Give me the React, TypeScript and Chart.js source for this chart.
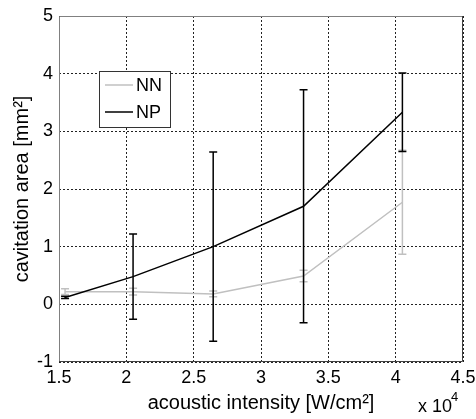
import React, { useEffect, useRef } from 'react';
import { Chart, registerables } from 'chart.js';

Chart.register(...registerables);

const intensity = [1.545, 2.05, 2.645, 3.316, 4.05];
const nnArea = [0.22, 0.22, 0.18, 0.49, 1.77];
const nnError = [0.05, 0.06, 0.05, 0.1, 0.9];
const npArea = [0.12, 0.48, 1.0, 1.7, 3.33];
const npError = [0.02, 0.74, 1.64, 2.02, 0.68];
const seriesNames = ['NN', 'NP'];
const seriesColors = ['#c0c0c0', '#000000'];
const xTickLabels = ['1.5', '2', '2.5', '3', '3.5', '4', '4.5'];
const yTickLabels = ['-1', '0', '1', '2', '3', '4', '5'];

const FONT = '"Liberation Sans", Arial, sans-serif';

const errorBarPlugin = {
  id: 'errorBars',
  afterDatasetsDraw(chart: any) {
    const ctx = chart.ctx;
    const xs = chart.scales.x;
    const ys = chart.scales.y;
    const sets = [
      { v: nnArea, e: nnError, c: seriesColors[0] },
      { v: npArea, e: npError, c: seriesColors[1] },
    ];
    ctx.save();
    for (const s of sets) {
      ctx.strokeStyle = s.c;
      ctx.lineWidth = 1.5;
      for (let i = 0; i < intensity.length; i++) {
        const px = xs.getPixelForValue(intensity[i]);
        const top = ys.getPixelForValue(s.v[i] + s.e[i]);
        const bot = ys.getPixelForValue(s.v[i] - s.e[i]);
        ctx.beginPath();
        ctx.moveTo(px, top);
        ctx.lineTo(px, bot);
        ctx.moveTo(px - 4, top);
        ctx.lineTo(px + 4, top);
        ctx.moveTo(px - 4, bot);
        ctx.lineTo(px + 4, bot);
        ctx.stroke();
      }
    }
    ctx.restore();
  },
};

const boxPlugin = {
  id: 'box',
  beforeDatasetsDraw(chart: any) {
    const { ctx, chartArea: a } = chart;
    ctx.save();
    ctx.lineWidth = 1;
    ctx.strokeStyle = '#808080';
    ctx.beginPath();
    ctx.moveTo(a.left + 0.5, a.bottom);
    ctx.lineTo(a.left + 0.5, a.top + 0.5);
    ctx.lineTo(a.right, a.top + 0.5);
    ctx.stroke();
    ctx.strokeStyle = '#404040';
    ctx.beginPath();
    ctx.moveTo(a.right - 0.5, a.top);
    ctx.lineTo(a.right - 0.5, a.bottom - 0.5);
    ctx.lineTo(a.left, a.bottom - 0.5);
    ctx.stroke();
    ctx.restore();
  },
};

const legendPlugin = {
  id: 'customLegend',
  afterDraw(chart: any) {
    const { ctx, chartArea: a } = chart;
    const left = a.left + 40;
    const top = a.top + 55;
    const w = 71;
    const h = 56;
    ctx.save();
    ctx.fillStyle = '#fff';
    ctx.fillRect(left, top, w, h);
    ctx.strokeStyle = '#333';
    ctx.lineWidth = 1;
    ctx.strokeRect(left + 0.5, top + 0.5, w, h);
    ctx.font = `18px ${FONT}`;
    ctx.textBaseline = 'middle';
    seriesNames.forEach((name, i) => {
      const y = top + 14 + i * 27;
      ctx.strokeStyle = seriesColors[i];
      ctx.lineWidth = 1.5;
      ctx.beginPath();
      ctx.moveTo(left + 6, y);
      ctx.lineTo(left + 34, y);
      ctx.stroke();
      ctx.fillStyle = '#000';
      ctx.fillText(name, left + 37, y + 1);
    });
    // exponent label
    ctx.textBaseline = 'alphabetic';
    ctx.font = `18px ${FONT}`;
    ctx.fillText('x 10', 418, 412);
    ctx.font = `13px ${FONT}`;
    ctx.fillText('4', 451, 401);
    ctx.restore();
  },
};

export default function App() {
  const ref = useRef<HTMLCanvasElement>(null);
  useEffect(() => {
    document.body.style.margin = '0';
    const chart = new Chart(ref.current!, {
      type: 'line',
      data: {
        datasets: [
          {
            label: seriesNames[0],
            data: intensity.map((x, i) => ({ x, y: nnArea[i] })),
            borderColor: seriesColors[0],
            borderWidth: 1.5,
            pointRadius: 0,
            tension: 0,
            order: 2,
          },
          {
            label: seriesNames[1],
            data: intensity.map((x, i) => ({ x, y: npArea[i] })),
            borderColor: seriesColors[1],
            borderWidth: 1.5,
            pointRadius: 0,
            tension: 0,
            order: 1,
          },
        ],
      },
      options: {
        animation: false,
        responsive: false,
        layout: { padding: { top: 16, right: 13, left: 0, bottom: 0 } },
        plugins: { legend: { display: false }, tooltip: { enabled: false } },
        scales: {
          x: {
            type: 'linear',
            min: 1.5,
            max: 4.5,
            ticks: {
              stepSize: 0.5,
              color: '#000',
              font: { family: FONT, size: 18 },
              padding: 5,
              maxRotation: 0,
              callback: (v: any) => {
                const idx = Math.round((Number(v) - 1.5) / 0.5);
                return xTickLabels[idx] ?? '';
              },
            },
            grid: { color: '#222', lineWidth: 1, drawTicks: false },
            border: { display: false, dash: [2, 2] },
            title: {
              display: true,
              text: 'acoustic intensity [W/cm²]',
              color: '#000',
              font: { family: FONT, size: 20 },
              padding: { top: 0, bottom: 4 },
            },
            afterFit: (s: any) => {
              s.height = 57;
              s.paddingLeft = 0;
              s.paddingRight = 0;
            },
          },
          y: {
            min: -1,
            max: 5,
            ticks: {
              stepSize: 1,
              color: '#000',
              font: { family: FONT, size: 18 },
              padding: 6,
              callback: (v: any) => {
                const idx = Math.round(Number(v) + 1);
                return yTickLabels[idx] ?? '';
              },
            },
            grid: { color: '#222', lineWidth: 1, drawTicks: false },
            border: { display: false, dash: [2, 2] },
            title: {
              display: true,
              text: 'cavitation area [mm²]',
              color: '#000',
              font: { family: FONT, size: 20 },
              padding: { top: 10, bottom: 0 },
            },
            afterFit: (s: any) => {
              s.width = 59;
              s.paddingTop = 0;
              s.paddingBottom = 0;
            },
          },
        },
      },
      plugins: [boxPlugin, errorBarPlugin, legendPlugin],
    } as any);
    return () => chart.destroy();
  }, []);
  return <canvas ref={ref} width={476} height={419} style={{ display: 'block' }} />;
}
